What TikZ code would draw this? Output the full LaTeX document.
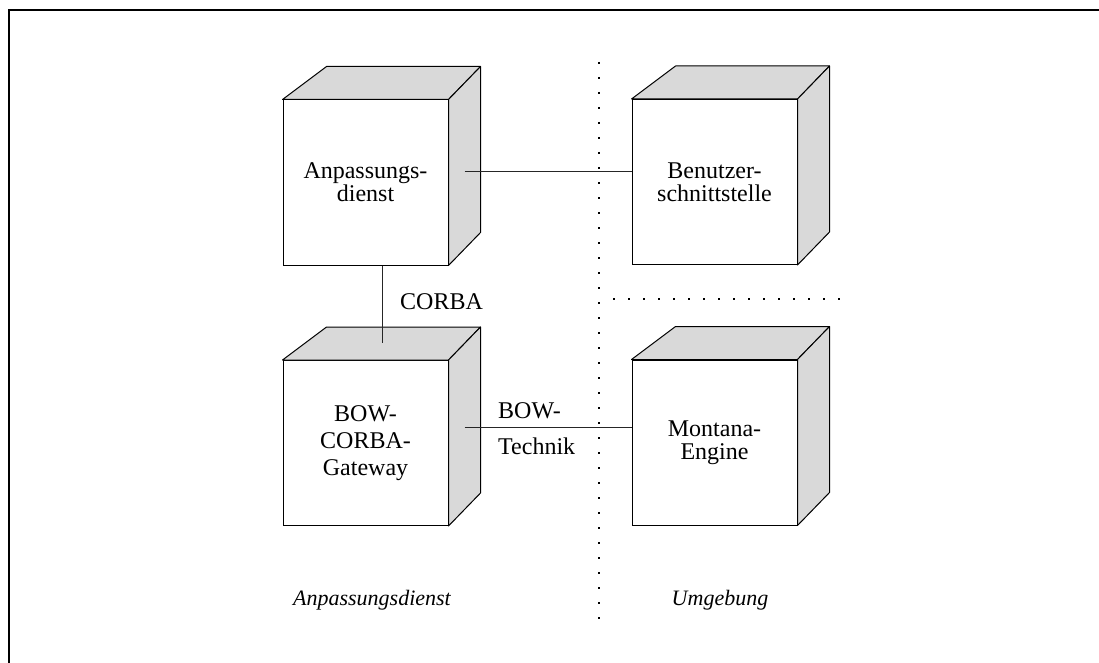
\documentclass[tikz,border=0pt]{standalone}
\usepackage{fontspec}
\setmainfont{Liberation Serif}
\usetikzlibrary{calc}
\definecolor{sideface}{RGB}{217,217,217}
\tikzset{
  front/.style={draw=black, line width=1pt, fill=white, minimum width=165pt,
    minimum height=165pt, inner sep=0pt, align=center,
    font=\fontsize{24}{23}\selectfont},
  face/.style={draw=black, line width=1pt, fill=sideface, line join=round},
  wire/.style={draw=black!85, line width=1pt},
  divider/.style={draw=black, line width=2pt, dash pattern=on 2pt off 13pt},
  frameline/.style={draw=black, line width=2pt},
  lbl/.style={inner sep=0pt, font=\fontsize{24}{26}\selectfont},
  region/.style={inner sep=0pt, font=\fontsize{22}{24}\selectfont\itshape}
}
% top and right faces of a box whose front face is the node #1
\newcommand\cubefaces[1]{%
  \filldraw[face] (#1.north west) -- ++(44,-33) -- ($(#1.north east)+(32,-33)$)
    -- (#1.north east) -- cycle;
  \filldraw[face] (#1.north east) -- ++(32,-33) -- ($(#1.south east)+(32,-33)$)
    -- (#1.south east) -- cycle;
}
\begin{document}
\begin{tikzpicture}[x=1pt, y=-1pt]
  \useasboundingbox (0,0) rectangle (1099,663);

  % frame
  \draw[frameline] (9,663) -- (9,10) -- (1099,10);

  % partition lines
  \coordinate (vtop) at (599,62);
  \coordinate (vbot) at (599,622);
  \coordinate (hl) at (613,299);
  \coordinate (hr) at (842,299);
  \draw[divider] (vtop) -- (vbot);
  \draw[divider] (hl) -- (hr);

  % boxes
  \node[front] (anp) at (365.5,182.5) {Anpassungs-\\dienst};
  \cubefaces{anp}
  \node[front] (ben) at (714.5,182) {Benutzer-\\schnittstelle};
  \cubefaces{ben}
  \node[front, font=\fontsize{24}{27}\selectfont] (gw) at (365.5,443) {BOW-\\CORBA-\\Gateway};
  \cubefaces{gw}
  \node[front] (mon) at (714.5,442.5) {Montana-\\Engine};
  \cubefaces{mon}

  % connections
  \coordinate (anpside) at ($(anp.east)+(16,-10.5)$);
  \draw[wire] (anpside) -- (anpside -| ben.west);
  \coordinate (anpbot) at ($(anp.south)+(16.5,0)$);
  \coordinate (gwtop) at ($(gw.north)+(16.5,-17)$);
  \draw[wire] (anpbot) -- (gwtop);
  \coordinate (gwside) at ($(gw.east)+(16,-16)$);
  \draw[wire] (gwside) -- (gwside -| mon.west);

  % connection labels
  \node[lbl, anchor=west] (corba) at (400,302) {CORBA};
  \node[lbl, anchor=west] (bow) at (498,411) {BOW-};
  \node[lbl, anchor=west] (technik) at (498,446) {Technik};

  % region labels
  \node[region] (regl) at (372,600) {Anpassungsdienst};
  \node[region] (regr) at (720,600) {Umgebung};
\end{tikzpicture}
\end{document}
